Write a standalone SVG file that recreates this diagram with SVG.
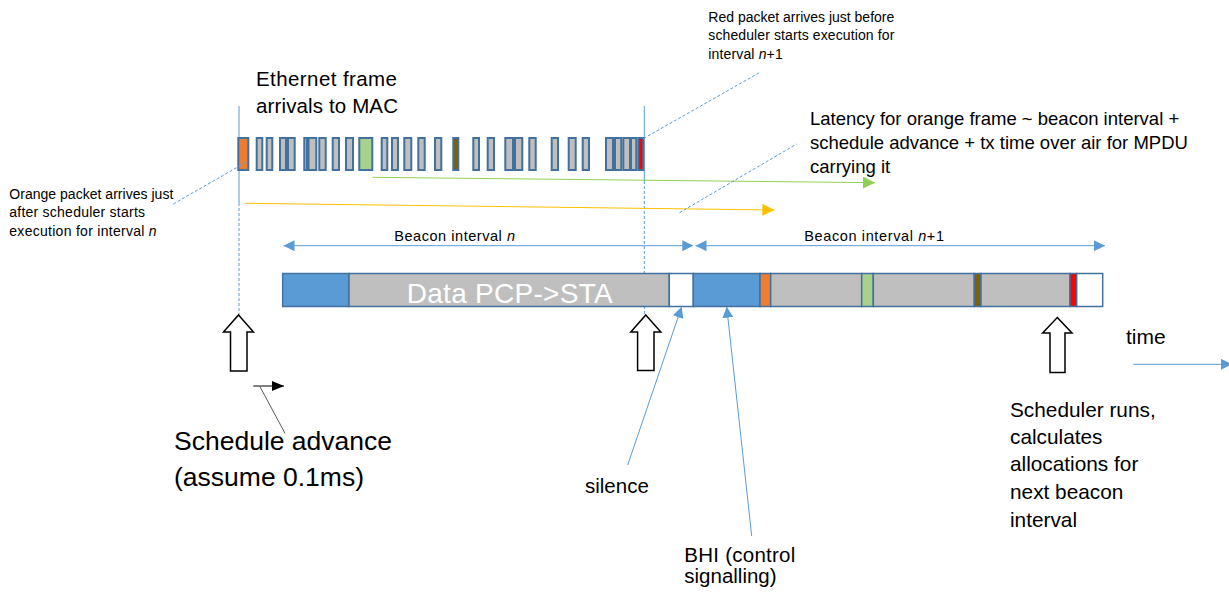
<svg xmlns="http://www.w3.org/2000/svg" width="1229" height="596" viewBox="0 0 1229 596">
  <defs>
    <style>
      text { font-family: "Liberation Sans", Arial, sans-serif; fill: #000; }
      .pk { stroke: #41719C; stroke-width: 2; }
      .gr { fill: #BFBFBF; }
      .seg { stroke: #41719C; stroke-width: 1.5; }
      .lead { fill: none; stroke: #5B9BD5; stroke-width: 1; stroke-dasharray: 3 2; }
      .vline { fill: none; stroke: #5B9BD5; stroke-width: 1; }
      .blk { fill: #fff; stroke: #000; stroke-width: 1.5; stroke-linejoin: miter; }
      .cn { fill: none; stroke: #5B9BD5; stroke-width: 1; }
      .small { font-size: 14px; }
    </style>
    <marker id="ahBlue" markerUnits="userSpaceOnUse" viewBox="0 0 11 11" refX="11" refY="5.5" markerWidth="11" markerHeight="11" orient="auto-start-reverse">
      <path d="M0,0 L11,5.5 L0,11 z" fill="#5B9BD5"/>
    </marker>
    <marker id="ahGreen" markerUnits="userSpaceOnUse" viewBox="0 0 12 12" refX="12" refY="6" markerWidth="12" markerHeight="12" orient="auto">
      <path d="M0,0 L12,6 L0,12 z" fill="#92D050"/>
    </marker>
    <marker id="ahGold" markerUnits="userSpaceOnUse" viewBox="0 0 12 12" refX="12" refY="6" markerWidth="12" markerHeight="12" orient="auto">
      <path d="M0,0 L12,6 L0,12 z" fill="#FFC000"/>
    </marker>
    <marker id="ahBlack" markerUnits="userSpaceOnUse" viewBox="0 0 12 10" refX="12" refY="5" markerWidth="12" markerHeight="10" orient="auto">
      <path d="M0,0 L12,5 L0,10 z" fill="#000"/>
    </marker>
  </defs>

  <rect x="0" y="0" width="1229" height="596" fill="#fff"/>

  <!-- scheduler instants: vertical guides -->
  <g id="guides">
    <line class="vline" x1="239" y1="106" x2="239" y2="203"/>
    <line class="lead" x1="239" y1="203" x2="239" y2="315"/>
    <line class="vline" x1="644.3" y1="106" x2="644.3" y2="181"/>
    <line class="lead" x1="644.3" y1="181" x2="644.3" y2="315"/>
  </g>

  <!-- Ethernet frames arriving at the MAC -->
  <g id="frame-arrivals">
    <rect class="pk" x="238.3" y="138" width="10" height="32" fill="#ED7D31"/>
    <rect class="pk gr" x="256.7" y="138" width="5.6" height="32"/>
    <rect class="pk gr" x="266.7" y="138" width="5.6" height="32"/>
    <rect class="pk gr" x="280" y="138" width="6" height="32"/>
    <rect class="pk gr" x="288" y="138" width="6.7" height="32"/>
    <rect class="pk gr" x="304.3" y="138" width="2.7" height="32"/>
    <rect class="pk gr" x="308.5" y="138" width="7.8" height="32"/>
    <rect class="pk gr" x="319.3" y="138" width="6.4" height="32"/>
    <rect class="pk gr" x="332.7" y="138" width="6.3" height="32"/>
    <rect class="pk gr" x="346" y="138" width="7" height="32"/>
    <rect class="pk" x="359.3" y="138" width="13" height="32" fill="#A9D18E"/>
    <rect class="pk gr" x="381.7" y="138" width="5.6" height="32"/>
    <rect class="pk gr" x="392" y="138" width="6" height="32"/>
    <rect class="pk gr" x="404.3" y="138" width="7" height="32"/>
    <rect class="pk gr" x="418.3" y="138" width="6.4" height="32"/>
    <rect class="pk gr" x="435" y="138" width="6.3" height="32"/>
    <rect class="pk" x="453.3" y="138" width="5" height="32" fill="#7F6000"/>
    <rect class="pk gr" x="473.3" y="138" width="5.7" height="32"/>
    <rect class="pk gr" x="487.7" y="138" width="6.3" height="32"/>
    <rect class="pk gr" x="505.3" y="138" width="7.7" height="32"/>
    <rect class="pk gr" x="515" y="138" width="7.3" height="32"/>
    <rect class="pk gr" x="529.3" y="138" width="6.4" height="32"/>
    <rect class="pk gr" x="551.7" y="138" width="6.3" height="32"/>
    <rect class="pk gr" x="568.7" y="138" width="7" height="32"/>
    <rect class="pk gr" x="582.7" y="138" width="6.3" height="32"/>
    <rect class="pk gr" x="606" y="138" width="7" height="32"/>
    <rect class="pk gr" x="615" y="138" width="6.3" height="32"/>
    <rect class="pk gr" x="623.3" y="138" width="6.7" height="32"/>
    <rect class="pk gr" x="631" y="138" width="5.3" height="32"/>
    <rect class="pk" x="638.3" y="138" width="5" height="32" fill="#FF0000"/>
  </g>

  <!-- air-time bar: beacon intervals n and n+1 -->
  <g id="beacon-bar">
    <rect class="seg" x="282.7" y="273.5" width="66.3" height="33" fill="#5B9BD5"/>
    <rect class="seg" x="349" y="273.5" width="320.3" height="33" fill="#BFBFBF"/>
    <rect class="seg" x="669.3" y="273.5" width="24" height="33" fill="#FFFFFF"/>
    <rect class="seg" x="693.3" y="273.5" width="66.7" height="33" fill="#5B9BD5"/>
    <rect class="seg" x="760" y="273.5" width="10.7" height="33" fill="#ED7D31"/>
    <rect class="seg" x="770.7" y="273.5" width="91" height="33" fill="#BFBFBF"/>
    <rect class="seg" x="861.7" y="273.5" width="11.6" height="33" fill="#A9D18E"/>
    <rect class="seg" x="873.3" y="273.5" width="101" height="33" fill="#BFBFBF"/>
    <rect class="seg" x="974.3" y="273.5" width="6.7" height="33" fill="#7F6000"/>
    <rect class="seg" x="981" y="273.5" width="89" height="33" fill="#BFBFBF"/>
    <rect class="seg" x="1070" y="273.5" width="6.7" height="33" fill="#FF0000"/>
    <rect class="seg" x="1076.7" y="273.5" width="26" height="33" fill="#FFFFFF"/>
    <text x="406.7" y="302.5" font-size="28" style="fill:#fff" textLength="206">Data PCP-&gt;STA</text>
  </g>

  <!-- scheduler run markers -->
  <g id="sched-run-n">
    <polygon class="blk" points="238.5,315 253.5,332 247,332 247,371 230.5,371 230.5,332 223.5,332"/>
  </g>
  <g id="sched-run-n1">
    <polygon class="blk" points="645.8,315 660.8,332 654,332 654,370.5 637.6,370.5 637.6,332 630.8,332"/>
  </g>
  <g id="sched-run-n2">
    <polygon class="blk" points="1057.3,317.5 1072,333 1065,333 1065,372.5 1050,372.5 1050,333 1042.6,333"/>
  </g>

  <!-- connectors -->
  <g id="connectors">
    <line class="cn" x1="283.5" y1="245.7" x2="693.3" y2="245.7" marker-start="url(#ahBlue)" marker-end="url(#ahBlue)"/>
    <line class="cn" x1="695.5" y1="245.7" x2="1105" y2="245.7" marker-start="url(#ahBlue)" marker-end="url(#ahBlue)"/>
    <line x1="372.5" y1="177.3" x2="875" y2="182.7" stroke="#92D050" stroke-width="1" marker-end="url(#ahGreen)"/>
    <line x1="245" y1="203.3" x2="774.3" y2="210" stroke="#FFC000" stroke-width="1" marker-end="url(#ahGold)"/>
    <line class="lead" x1="173.3" y1="204" x2="246.5" y2="162"/>
    <line class="lead" x1="643.5" y1="138.5" x2="759.3" y2="72.7"/>
    <line class="lead" x1="679.5" y1="212.7" x2="796.7" y2="144"/>
    <line class="cn" x1="627.7" y1="465" x2="681.7" y2="306.7" marker-end="url(#ahBlue)"/>
    <line class="cn" x1="751.7" y1="536" x2="726.7" y2="306.7" marker-end="url(#ahBlue)"/>
    <line class="cn" x1="1133.3" y1="364.3" x2="1232" y2="364.3" marker-end="url(#ahBlue)"/>
    <line x1="253.3" y1="386" x2="284" y2="386" stroke="#000" stroke-width="1" marker-end="url(#ahBlack)"/>
    <line x1="260" y1="386.7" x2="285" y2="433.3" stroke="#595959" stroke-width="1"/>
  </g>

  <!-- labels -->
  <g id="label-ethernet">
    <text x="256" y="85.7" font-size="20.5" textLength="141">Ethernet frame</text>
    <text x="256" y="112.7" font-size="20.5" textLength="142">arrivals to MAC</text>
  </g>
  <g id="label-orange">
    <text class="small" x="9.3" y="199" textLength="164">Orange packet arrives just</text>
    <text class="small" x="9.3" y="217.3" textLength="135.7">after scheduler starts</text>
    <text class="small" x="9.3" y="235.6" textLength="147.3">execution for interval <tspan font-style="italic">n</tspan></text>
  </g>
  <g id="label-red">
    <text class="small" x="708.3" y="22" textLength="186">Red packet arrives just before</text>
    <text class="small" x="708.3" y="40.3" textLength="186">scheduler starts execution for</text>
    <text class="small" x="708.3" y="58.6" textLength="74.4">interval <tspan font-style="italic">n</tspan>+1</text>
  </g>
  <g id="label-latency">
    <text x="810" y="125" font-size="18.5">Latency for orange frame ~ beacon interval +</text>
    <text x="810" y="149" font-size="18.5">schedule advance + tx time over air for MPDU</text>
    <text x="810" y="173" font-size="18.5">carrying it</text>
  </g>
  <g id="label-beacon-n">
    <text x="394.3" y="240.5" font-size="14.5" textLength="120.7">Beacon interval <tspan font-style="italic">n</tspan></text>
  </g>
  <g id="label-beacon-n1">
    <text x="804.3" y="240.5" font-size="14.5" textLength="139.7">Beacon interval <tspan font-style="italic">n</tspan>+1</text>
  </g>
  <g id="label-advance">
    <text x="174" y="450" font-size="26.5">Schedule advance</text>
    <text x="174" y="486" font-size="26.5">(assume 0.1ms)</text>
  </g>
  <g id="label-silence">
    <text x="585" y="492.7" font-size="20.5">silence</text>
  </g>
  <g id="label-bhi">
    <text x="684.3" y="562.3" font-size="20.5" textLength="111">BHI (control</text>
    <text x="684.3" y="583" font-size="20.5">signalling)</text>
  </g>
  <g id="label-scheduler">
    <text x="1010" y="416.7" font-size="20.8">Scheduler runs,</text>
    <text x="1010" y="444" font-size="20.8">calculates</text>
    <text x="1010" y="471.3" font-size="20.8">allocations for</text>
    <text x="1010" y="498.8" font-size="20.8">next beacon</text>
    <text x="1010" y="526.5" font-size="20.8">interval</text>
  </g>
  <g id="label-time">
    <text x="1126" y="344.3" font-size="21">time</text>
  </g>
</svg>
